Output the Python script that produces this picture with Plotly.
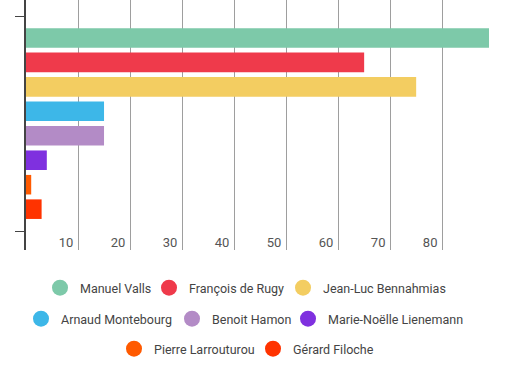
import plotly.graph_objects as go

candidates = ["Manuel Valls", "François de Rugy", "Jean-Luc Bennahmias",
              "Arnaud Montebourg", "Benoit Hamon", "Marie-Noëlle Lienemann",
              "Pierre Larrouturou", "Gérard Filoche"]
values = [89, 65, 75, 15, 15, 4, 1, 3]
colors = ["#7DC9A9", "#EF3A4B", "#F3CD61", "#3DB7E8",
          "#B38BC6", "#7F30DF", "#FF5A00", "#FF3300"]
x_ticks = [10, 20, 30, 40, 50, 60, 70, 80]

# legend layout (pixel centre of each entry's symbol, row index)
legend_sym_x = [60, 169, 303, 41, 192, 308, 134, 273]
legend_row = [0, 0, 0, 1, 1, 1, 2, 2]
row_y_px = [288, 319, 349]

W, H = 531, 372
ML, MR, MT, MB = 26, 42, 0, 122
PW, PH = W - ML - MR, H - MT - MB

fig = go.Figure()
for name, v, c in zip(candidates, values, colors):
    fig.add_trace(go.Bar(x=[v], y=[0], orientation="h", marker_color=c,
                         marker_line_width=0, name=name, showlegend=False,
                         hoverinfo="x+name"))

legends = {}
for i, (name, c) in enumerate(zip(candidates, colors)):
    key = "legend" if i == 0 else f"legend{i + 1}"
    fig.add_trace(go.Scatter(x=[None], y=[None], mode="markers", name=name,
                             marker=dict(color=c, size=16, symbol="circle"),
                             legend=key, showlegend=True))
    legends[key] = dict(orientation="h", xanchor="left", yanchor="middle",
                        x=(legend_sym_x[i] - 20 - ML) / PW,
                        y=(PH - row_y_px[legend_row[i]]) / PH,
                        font=dict(family="Roboto", size=12.5, color="#444"),
                        bgcolor="rgba(0,0,0,0)", itemclick=False)

fig.update_layout(
    width=W, height=H,
    margin=dict(l=ML, r=MR, t=MT, b=MB, autoexpand=False),
    barmode="group", bargap=0.09, bargroupgap=0.2,
    plot_bgcolor="white", paper_bgcolor="white",
    font=dict(family="Roboto", size=13, color="#444"),
    xaxis=dict(range=[0, 89], tickvals=x_ticks, showgrid=True, gridcolor="#9E9E9E",
               gridwidth=1, zeroline=False, showline=False,
               ticklabelposition="inside", ticklabelshift=-12, ticklabelstandoff=-3,
               ticks="", tickfont=dict(family="Roboto", size=13, color="#555")),
    yaxis=dict(range=[0.588, -0.5744], tickvals=[-0.5, 0.5], showticklabels=False,
               ticks="outside", ticklen=9, tickwidth=1, tickcolor="#444",
               showline=True, linecolor="#444", linewidth=2, showgrid=False,
               zeroline=False),
    **legends,
)

fig.write_html("out.html", config={"displayModeBar": False},
               post_script="document.body.style.margin='0';")
